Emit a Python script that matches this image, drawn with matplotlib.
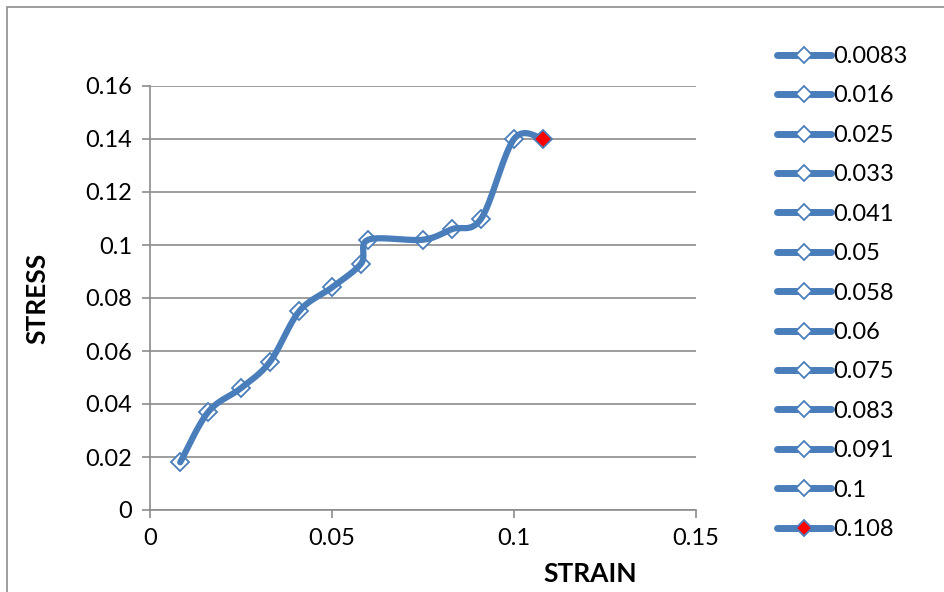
import numpy as np
import matplotlib
matplotlib.use("Agg")
import matplotlib.pyplot as plt
from matplotlib.lines import Line2D
from matplotlib.patches import Rectangle

plt.rcParams['font.family'] = ['Lato', 'DejaVu Sans']

strain = [0.0083, 0.016, 0.025, 0.033, 0.041, 0.05, 0.058, 0.06, 0.075, 0.083, 0.091, 0.1, 0.108]
stress = [0.018, 0.037, 0.046, 0.056, 0.075, 0.084, 0.093, 0.102, 0.102, 0.106, 0.110, 0.140, 0.140]
labels = ['0.0083', '0.016', '0.025', '0.033', '0.041', '0.05', '0.058', '0.06',
          '0.075', '0.083', '0.091', '0.1', '0.108']

blue = '#4a7ebb'
grid_c = '#8c8c8c'

W, H = 944, 592
fig = plt.figure(figsize=(W / 100, H / 100), dpi=100)
fig.patches.append(Rectangle((7 / W, -0.1), 1.2, 1 - 7 / H + 0.1, transform=fig.transFigure,
                             fill=False, edgecolor='#8c8c8c', linewidth=1.2))

ax = fig.add_axes([150 / W, 82 / H, 546 / W, 424 / H])
ax.set_xlim(0, 0.15)
ax.set_ylim(0, 0.16)


# excel-like smoothed line (bezier with tension 1/6), computed in screen-ish units
def smooth(x, y, sx, sy, n=30):
    p = np.column_stack([np.asarray(x) * sx, np.asarray(y) * sy])
    p = np.vstack([p[0], p, p[-1]])
    out = []
    for i in range(1, len(p) - 2):
        p0, p1, p2, p3 = p[i - 1], p[i], p[i + 1], p[i + 2]
        c1 = p1 + (p2 - p0) / 6
        c2 = p2 - (p3 - p1) / 6
        t = np.linspace(0, 1, n)[:, None]
        seg = (1 - t) ** 3 * p1 + 3 * (1 - t) ** 2 * t * c1 + 3 * (1 - t) * t ** 2 * c2 + t ** 3 * p2
        out.append(seg)
    out = np.vstack(out)
    return out[:, 0] / sx, out[:, 1] / sy


sx_, sy_ = smooth(strain, stress, 546 / 0.15, 424 / 0.16)

ax.plot(strain[:-1], stress[:-1], linestyle='none', marker='D', markersize=9,
        markerfacecolor='white', markeredgecolor=blue, markeredgewidth=1.3, zorder=3)
ax.plot(sx_, sy_, color=blue, linewidth=4.5, solid_capstyle='round', zorder=4)
ax.plot(strain[-1:], stress[-1:], linestyle='none', marker='D', markersize=9,
        markerfacecolor='red', markeredgecolor=blue, markeredgewidth=1.3, zorder=5)

ax.set_xticks([0, 0.05, 0.1, 0.15])
ax.set_xticklabels(['0', '0.05', '0.1', '0.15'])
ax.set_yticks(np.arange(0, 0.161, 0.02))
ax.set_yticklabels(['0', '0.02', '0.04', '0.06', '0.08', '0.1', '0.12', '0.14', '0.16'])
ax.yaxis.grid(True, color=grid_c, linewidth=1.2)
ax.set_axisbelow(True)
for s in ['top', 'right']:
    ax.spines[s].set_visible(False)
for s in ['left', 'bottom']:
    ax.spines[s].set_color(grid_c)
    ax.spines[s].set_linewidth(1.2)
ax.tick_params(axis='both', direction='out', length=6, width=1.2, color=grid_c,
               labelsize=17, pad=7)

fig.text(590 / W, 1 - 574 / H, 'STRAIN', ha='center', va='center', fontsize=19, fontweight='bold')
fig.text(37 / W, 1 - 298 / H, 'STRESS', ha='center', va='center', rotation=90,
         fontsize=19, fontweight='bold')

handles = []
for i, lab in enumerate(labels):
    fc = 'red' if i == len(labels) - 1 else 'white'
    handles.append(Line2D([], [], color=blue, linewidth=5, marker='D', markersize=8,
                          markerfacecolor=fc, markeredgecolor=blue, markeredgewidth=1.3,
                          solid_capstyle='round'))
fig.legend(handles, labels, loc='upper left', bbox_to_anchor=(777 / W, 1 - 46 / H),
           frameon=False, fontsize=17, handlelength=2.3, handletextpad=0.1, numpoints=1,
           labelspacing=0.78, borderaxespad=0, borderpad=0)

fig.savefig('out.png', dpi=100)
